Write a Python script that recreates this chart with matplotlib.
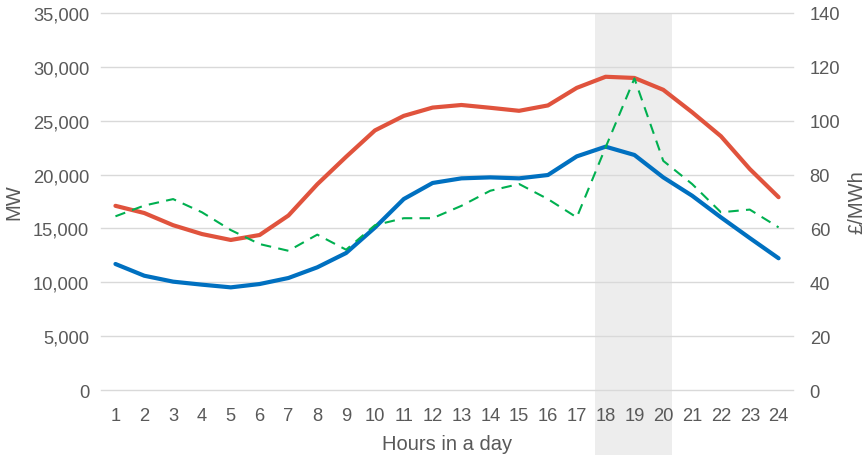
import matplotlib
matplotlib.use("Agg")
import matplotlib.pyplot as plt
from matplotlib.ticker import FuncFormatter

hours = list(range(1, 25))
demand_peak = [17100, 16430, 15300, 14480, 13930, 14390, 16200, 19100, 21650, 24100,
               25450, 26220, 26460, 26200, 25920, 26420, 28050, 29080, 28970, 27870,
               25790, 23560, 20520, 17900]
demand_low = [11700, 10610, 10060, 9780, 9530, 9840, 10400, 11390, 12720, 15080,
              17730, 19220, 19650, 19740, 19650, 19960, 21690, 22590, 21820, 19740,
              18040, 16030, 14110, 12230]
price = [64.5, 68.5, 70.9, 66.0, 59.4, 54.2, 51.7, 57.7, 52.1, 61.2,
         63.8, 63.8, 68.4, 74.0, 76.5, 70.9, 64.1, 90.1, 115.7, 85.1,
         76.5, 66.0, 67.0, 60.4]
peak_window = (17.63, 20.31)

text_color = "#595959"
plt.rcParams['font.family'] = ['Liberation Sans', 'DejaVu Sans']

fig = plt.figure(figsize=(8.68, 4.56), dpi=100)
ax = fig.add_axes([0.1164, 0.1425, 0.7972, 0.8268])
ax2 = ax.twinx()

ax.axvspan(peak_window[0], peak_window[1], ymin=-0.3, ymax=1.0, color="#EDEDED",
           zorder=0, clip_on=False, lw=0)

ax.plot(hours, demand_peak, color="#E0533D", lw=3.0, zorder=3, solid_capstyle='round')
ax.plot(hours, demand_low, color="#0070C0", lw=3.0, zorder=3, solid_capstyle='round')
ax2.plot(hours, price, color="#00B050", lw=1.5, dashes=(5, 3.5), zorder=3)

ax.set_xlim(0.5, 24.5)
ax.set_ylim(0, 35000)
ax2.set_ylim(0, 140)
ax.set_yticks(range(0, 35001, 5000))
ax2.set_yticks(range(0, 141, 20))
ax.set_xticks(hours)
ax.yaxis.set_major_formatter(FuncFormatter(lambda v, p: f"{int(v):,}"))

ax.grid(axis='y', color="#D9D9D9", lw=1.0, zorder=1)
for gl in ax.get_ygridlines():
    gl.set_clip_on(False)
ax.set_axisbelow(True)
for a in (ax, ax2):
    for s in a.spines.values():
        s.set_visible(False)
    a.tick_params(length=0, labelsize=13.2, labelcolor=text_color)
ax.tick_params(axis='y', pad=8.5)
ax.tick_params(axis='x', pad=12.5)
ax2.tick_params(axis='y', pad=12)

ax.set_xlabel("Hours in a day", fontsize=14.5, color=text_color, labelpad=7)
ax.set_ylabel("MW", fontsize=14.5, color=text_color, labelpad=7)
ax2.set_ylabel("£/MWh", fontsize=14.5, color=text_color, labelpad=5)

fig.savefig("out.png", dpi=100)
